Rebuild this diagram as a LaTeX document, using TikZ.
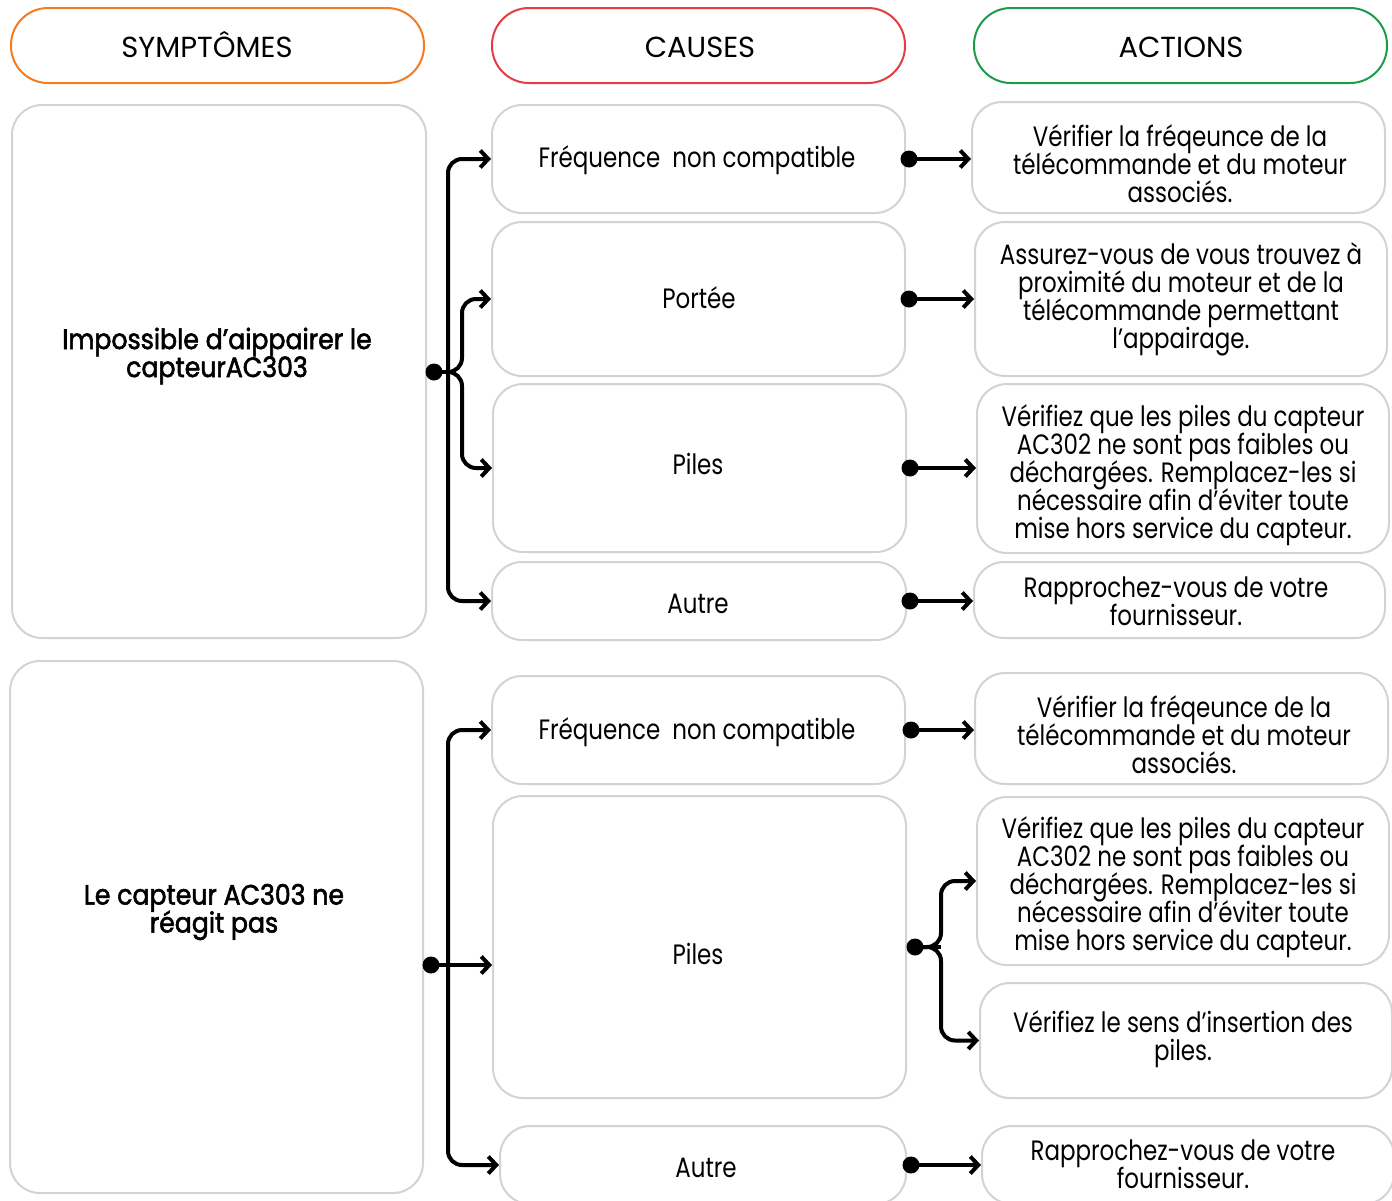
\documentclass[tikz,border=0pt]{standalone}
\usepackage{fontspec}
\usetikzlibrary{arrows.meta}
\setmainfont{Poppins}
\newfontfamily\bodyfont[FakeStretch=0.82]{Poppins}
\newfontfamily\symfont[FakeStretch=0.9,FakeBold=2]{Poppins}
\definecolor{corange}{HTML}{F47B20}
\definecolor{cred}{HTML}{E63B3F}
\definecolor{cgreen}{HTML}{1E9A4B}
\definecolor{cgray}{HTML}{D2D2D8}
\newcommand\tightlines{\lineskiplimit=-20pt\relax\lineskip=0pt\relax}
\newcommand\mybox[6]{%
  \pgfmathsetmacro\bw{(#4-#2)*0.5}\pgfmathsetmacro\bh{(#5-#3)*0.5}%
  \node[#6, minimum width=\bw pt, minimum height=\bh pt] (#1) at ({(#2+#4)/2},{(#3+#5)/2}) {};}
\tikzset{
  hdr/.style={draw, line width=1pt, rounded corners=18.5pt, inner sep=0pt},
  hdrtext/.style={anchor=base, inner sep=0pt, font=\fontsize{14.5}{15}\selectfont},
  gbox/.style={draw=cgray, line width=1pt, rounded corners=15pt, inner sep=0pt},
  btext/.style={align=center, inner sep=0pt, font=\bodyfont\fontsize{14}{14}\selectfont\tightlines},
  symtext/.style={align=center, inner sep=0pt, font=\symfont\fontsize{14}{14}\selectfont\tightlines},
  conn/.style={line width=2pt, rounded corners=7pt},
  arr/.style={conn, -{Straight Barb[length=4pt,width=8.5pt,line width=2pt]}},
  dotc/.style={fill=black, circle, inner sep=0pt, minimum size=8.5pt}
}
\begin{document}
\begin{tikzpicture}[x=0.5pt,y=-0.5pt]
\useasboundingbox (0,0) rectangle (1392,1200);
% headers
\mybox{h1}{11}{8}{424}{83}{hdr, draw=corange}
\mybox{h2}{492}{8}{905}{83}{hdr, draw=cred}
\mybox{h3}{974}{8}{1387}{83}{hdr, draw=cgreen}
\node[hdrtext] (h1t) at (207,57) {SYMPTÔMES};
\node[hdrtext] (h2t) at (700,57) {CAUSES};
\node[hdrtext] (h3t) at (1181,57) {ACTIONS};
% symptom boxes
\mybox{s1}{12}{105}{426}{638}{gbox}
\mybox{s2}{10}{661}{423}{1193}{gbox}
\node[symtext] (s1t) at (217,356) {Impossible d’aippairer le\\capteurAC303};
\node[symtext] (s2t) at (214,912) {Le capteur AC303 ne\\réagit pas};
% causes group 1
\mybox{c1}{492}{105}{905}{213}{gbox}
\mybox{c2}{492}{222}{905}{376}{gbox}
\mybox{c3}{493}{384}{906}{552}{gbox}
\mybox{c4}{492}{562}{906}{640}{gbox}
\node[btext] (c1t) at (697,160) {Fréquence\ \ non compatible};
\node[btext] (c2t) at (699,298) {Portée};
\node[btext] (c3t) at (698,464) {Piles};
\node[btext] (c4t) at (698,604) {Autre};
% actions group 1
\mybox{a1}{972}{102}{1385}{213}{gbox}
\mybox{a2}{975}{222}{1387}{376}{gbox}
\mybox{a3}{977}{384}{1389}{553}{gbox}
\mybox{a4}{974}{562}{1385}{638}{gbox}
\node[btext] (a1t) at (1180,164) {Vérifier la fréqeunce de la\\télécommande et du moteur\\associés.};
\node[btext] (a2t) at (1181,299) {Assurez-vous de vous trouvez à\\proximité du moteur et de la\\télécommande permettant\\l’appairage.};
\node[btext] (a3t) at (1183,475) {Vérifiez que les piles du capteur\\AC302 ne sont pas faibles ou\\déchargées. Remplacez-les si\\nécessaire afin d’éviter toute\\mise hors service du capteur.};
\node[btext] (a4t) at (1176,601) {Rapprochez-vous de votre\\fournisseur.};
% causes group 2
\mybox{c5}{492}{676}{905}{784}{gbox}
\mybox{c6}{493}{796}{906}{1098}{gbox}
\mybox{c7}{500}{1126}{906}{1204}{gbox}
\node[btext] (c5t) at (697,732) {Fréquence\ \ non compatible};
\node[btext] (c6t) at (698,954) {Piles};
\node[btext] (c7t) at (706,1168) {Autre};
% actions group 2
\mybox{a5}{975}{673}{1388}{784}{gbox}
\mybox{a6}{977}{797}{1389}{965}{gbox}
\mybox{a7}{980}{983}{1392}{1098}{gbox}
\mybox{a8}{982}{1126}{1394}{1204}{gbox}
\node[btext] (a5t) at (1184,735) {Vérifier la fréqeunce de la\\télécommande et du moteur\\associés.};
\node[btext] (a6t) at (1183,887) {Vérifiez que les piles du capteur\\AC302 ne sont pas faibles ou\\déchargées. Remplacez-les si\\nécessaire afin d’éviter toute\\mise hors service du capteur.};
\node[btext] (a7t) at (1183,1039) {Vérifiez le sens d’insertion des\\piles.};
\node[btext] (a8t) at (1183,1164) {Rapprochez-vous de votre\\fournisseur.};
% group 1 connectors
\coordinate (d1) at (434,372);
\coordinate (j1) at (448,372);
\coordinate (k1) at (462,372);
\draw[conn] (d1) -- (j1);
\draw[arr] (j1) |- (c1.west);
\draw[arr] (j1) |- (c4.west);
\draw[arr] (j1) -- (k1) |- (c2.west);
\draw[arr] (j1) -- (k1) |- (c3.west);
\node[dotc] (d1n) at (d1) {};
% group 1 actions
\foreach \c/\a in {c1/a1,c2/a2,c3/a3,c4/a4}{
  \coordinate (e\c) at ([xshift=1.5pt]\c.east);
  \draw[arr] (e\c) -- (e\c -| \a.west);
  \node[dotc] at (e\c) {};
}
% group 2 connectors
\coordinate (d2) at (431,965);
\coordinate (j2) at (448,965);
\draw[conn] (d2) -- (j2);
\draw[arr] (j2) |- (c5.west);
\draw[arr] (j2) |- (c7.west);
\draw[arr] (j2) -- (j2 -| c6.west);
\node[dotc] (d2n) at (d2) {};
% group 2 actions
\coordinate (ec5) at ([xshift=2.5pt]c5.east);
\draw[arr] (ec5) -- (ec5 -| a5.west);
\node[dotc] at (ec5) {};
\coordinate (ec6) at ([xshift=4pt]c6.east);
\coordinate (j6) at (941,947);
\draw[conn] (ec6) -- (j6);
\draw[arr] (ec6) -- (j6) |- (a6.west);
\draw[arr] (ec6) -- (j6) |- (a7.west);
\node[dotc] at (ec6) {};
\coordinate (ec7) at ([xshift=2pt]c7.east);
\draw[arr] (ec7) -- (a8.west);
\node[dotc] at (ec7) {};
\end{tikzpicture}
\end{document}
